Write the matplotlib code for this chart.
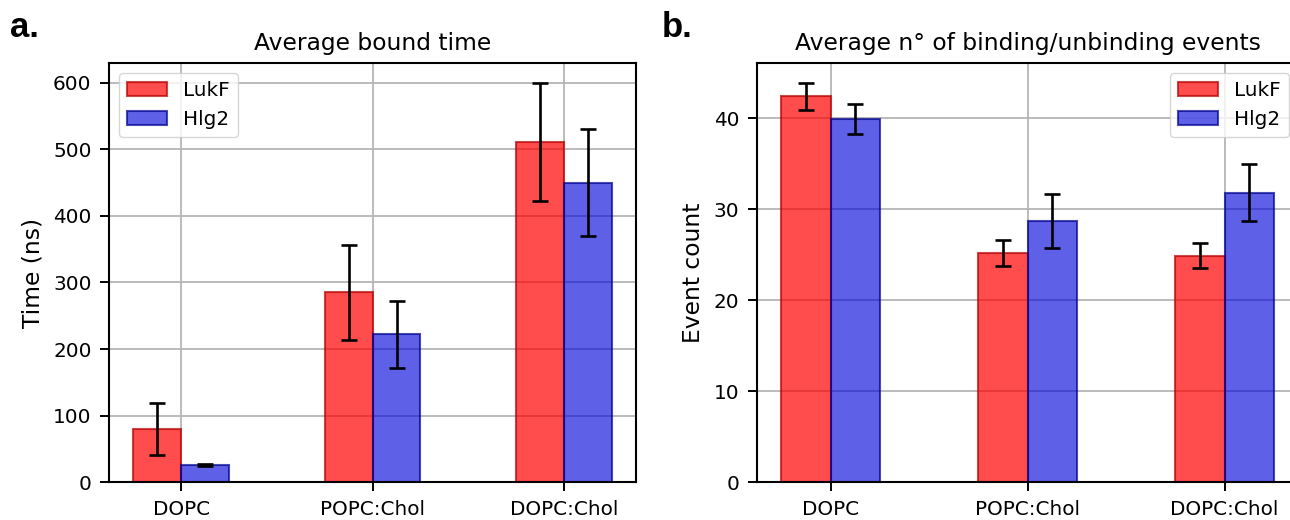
import matplotlib
matplotlib.use('Agg')
import matplotlib.pyplot as plt
import numpy as np

# Daten
membranes = ['DOPC', 'POPC:Chol', 'DOPC:Chol']
proteins = ['LukF', 'Hlg2']

bound_lukf = [80, 285, 511]
bound_lukf_err = [39, 72, 89]
bound_hlg2 = [26, 222, 450]
bound_hlg2_err = [2, 50, 80]

events_lukf = [42.4, 25.2, 24.9]
events_lukf_err = [1.5, 1.4, 1.4]
events_hlg2 = [39.9, 28.7, 31.8]
events_hlg2_err = [1.6, 2.95, 3.15]

plt.rcParams['font.family'] = 'DejaVu Sans'
plt.rcParams['axes.linewidth'] = 1.5

fig = plt.figure(figsize=(12.9, 5.2), dpi=100)
ax1 = fig.add_axes([0.0847, 0.0725, 0.4083, 0.807])
ax2 = fig.add_axes([0.5866, 0.0725, 0.4200, 0.807])

x = np.arange(len(membranes))
width = 0.25
red_face = (1.0, 0.0, 0.0, 0.7)
red_edge = (0.7, 0.0, 0.0, 0.7)
blue_face = (0.0, 0.02, 0.86, 0.63)
blue_edge = (0.0, 0.0, 0.55, 0.7)
err_kw = dict(elinewidth=1.9, capthick=1.9, ecolor='black')


def draw_panel(ax, lukf, lukf_err, hlg2, hlg2_err, title, ylabel, legend_loc):
    ax.bar(x - width / 2, lukf, width, yerr=lukf_err, capsize=6, color=red_face,
           edgecolor=red_edge, linewidth=1.5, label=proteins[0], error_kw=err_kw)
    ax.bar(x + width / 2, hlg2, width, yerr=hlg2_err, capsize=6, color=blue_face,
           edgecolor=blue_edge, linewidth=1.5, label=proteins[1], error_kw=err_kw)
    ax.set_xticks(x)
    ax.set_xticklabels(membranes)
    ax.set_xlim(-0.375, 2.375)
    ax.set_axisbelow(True)
    ax.grid(True, color='#b5b5b5', linewidth=1.3)
    ax.tick_params(labelsize=14.4, length=6.7, width=1.4, pad=6)
    ax.set_title(title, fontsize=16.8, pad=9)
    ax.set_ylabel(ylabel, fontsize=16.8, labelpad=6)
    ax.legend(loc=legend_loc, fontsize=14.4)


draw_panel(ax1, bound_lukf, bound_lukf_err, bound_hlg2, bound_hlg2_err,
           'Average bound time', 'Time (ns)', 'upper left')
draw_panel(ax2, events_lukf, events_lukf_err, events_hlg2, events_hlg2_err,
           'Average n° of binding/unbinding events', 'Event count', 'upper right')
ax2.set_yticks([0, 10, 20, 30, 40])

# Panel-Buchstaben
fig.text(0.008, 0.928, 'a.', fontsize=25, fontweight='bold', family='Liberation Sans')
fig.text(0.513, 0.928, 'b.', fontsize=25, fontweight='bold', family='Liberation Sans')

plt.savefig('out.png', dpi=100)
